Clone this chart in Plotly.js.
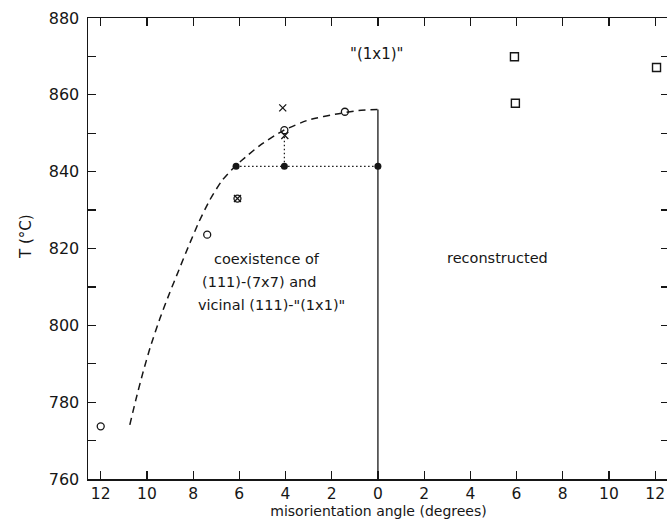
<!DOCTYPE html>
<html>
<head>
<meta charset="utf-8">
<script src="https://cdn.plot.ly/plotly-3.0.1.min.js"></script>
<style>html,body{margin:0;padding:0;background:#fff;overflow:hidden;}#chart{width:670px;height:522px;}</style>
</head>
<body>
<div id="chart"></div>
<script>
// Data (x: signed misorientation angle, left side negative; T in °C)
var curveX = [-10.74, -10.48, -10.19, -9.85, -9.43, -9.00, -8.65, -8.21, -7.75, -7.28, -6.76, -6.20, -5.65, -5.05, -4.10, -2.98, -1.70, -0.84, 0];
var curveT = [774.1, 780.6, 787.3, 794.4, 801.9, 808.7, 813.9, 820.4, 826.9, 832.6, 837.6, 841.3, 844.2, 847.1, 850.7, 853.5, 855.1, 855.9, 856.2];
var boundaryX = [0, 0];
var boundaryT = [760, 856.2];
var dotHX = [-6.14, 0];
var dotHT = [841.4, 841.4];
var dotVX = [-4.05, -4.05];
var dotVT = [841.4, 849.0];
var openCircleX = [-12.0, -7.39, -6.08, -4.05, -1.43];
var openCircleT = [773.7, 823.6, 833.0, 850.8, 855.6];
var crossX = [-6.08, -4.12, -4.03];
var crossT = [833.0, 856.6, 849.4];
var filledX = [-6.14, -4.05, 0];
var filledT = [841.4, 841.4, 841.4];
var squareX = [5.91, 5.95, 12.06];
var squareT = [869.9, 857.8, 867.1];
var xTickVals = [-12, -10, -8, -6, -4, -2, 0, 2, 4, 6, 8, 10, 12];
var xTickText = ['12', '10', '8', '6', '4', '2', '0', '2', '4', '6', '8', '10', '12'];
var yTickVals = [760, 770, 780, 790, 800, 810, 820, 830, 840, 850, 860, 870, 880];
var yTickText = ['760', '', '780', '', '800', '', '820', '', '840', '', '860', '', '880'];
var labelTexts = ['"(1x1)"', 'coexistence of', '(111)-(7x7) and', 'vicinal (111)-"(1x1)"', 'reconstructed'];
var labelX = [-0.08, -4.79, -5.13, -4.62, 5.17];
var labelT = [870.6, 817.3, 811.3, 805.3, 817.5];

var ink = '#161616';
var fam = 'DejaVu Sans, sans-serif';

var traces = [
  {x: curveX, y: curveT, mode: 'lines', line: {color: ink, width: 1.5, dash: '7px,5px', shape: 'spline', smoothing: 0.6}},
  {x: boundaryX, y: boundaryT, mode: 'lines', line: {color: ink, width: 1.3}},
  {x: dotHX, y: dotHT, mode: 'lines', line: {color: ink, width: 1.2, dash: '1.5px,2.5px'}},
  {x: dotVX, y: dotVT, mode: 'lines', line: {color: ink, width: 1.2, dash: '1.5px,2.5px'}},
  {x: openCircleX, y: openCircleT, mode: 'markers', marker: {symbol: 'circle-open', size: 7, color: ink, line: {width: 1.3, color: ink}}},
  {x: crossX, y: crossT, mode: 'markers', marker: {symbol: 'x-thin-open', size: 7, color: ink, line: {width: 1.3, color: ink}}},
  {x: filledX, y: filledT, mode: 'markers', marker: {symbol: 'circle', size: 7, color: ink}},
  {x: squareX, y: squareT, mode: 'markers', marker: {symbol: 'square-open', size: 8, color: ink, line: {width: 1.4, color: ink}}}
];

var annotations = labelTexts.map(function (t, i) {
  return {x: labelX[i], y: labelT[i], xref: 'x', yref: 'y', text: t, showarrow: false,
          font: {family: fam, size: (i === 0 ? 15 : 14.5), color: ink}, xanchor: 'center', yanchor: 'middle'};
});
annotations.push({x: 0, xref: 'paper', xanchor: 'center', xshift: -62, y: 0.525, yref: 'paper', yanchor: 'middle',
  text: 'T (°C)', textangle: -90, showarrow: false, font: {family: fam, size: 15, color: ink}});

var layout = {
  width: 670, height: 522,
  margin: {l: 88, r: 1, t: 18, b: 43},
  paper_bgcolor: '#fff', plot_bgcolor: '#fff',
  showlegend: false,
  font: {family: fam, color: ink},
  xaxis: {
    range: [-12.55, 12.6], tickmode: 'array', tickvals: xTickVals, ticktext: xTickText,
    ticks: 'inside', ticklen: 8, tickwidth: 1.2, tickcolor: ink, ticklabeloverflow: 'allow',
    showline: true, linecolor: ink, linewidth: 1.5, mirror: 'ticks',
    showgrid: false, zeroline: false,
    tickfont: {family: fam, size: 15.5, color: ink},
    title: {text: 'misorientation angle (degrees)', font: {family: fam, size: 14, color: ink}, standoff: 4}
  },
  yaxis: {
    range: [760, 880], tickmode: 'array', tickvals: yTickVals, ticktext: yTickText,
    ticks: 'inside', ticklen: 8, tickwidth: 1.2, tickcolor: ink, ticklabeloverflow: 'allow',
    ticklabelstandoff: 4,
    showline: true, linecolor: ink, linewidth: 1.5, mirror: 'ticks',
    showgrid: false, zeroline: false,
    tickfont: {family: fam, size: 16, color: ink}
  },
  annotations: annotations
};

Plotly.newPlot('chart', traces, layout, {displayModeBar: false, staticPlot: true});
</script>
</body>
</html>
